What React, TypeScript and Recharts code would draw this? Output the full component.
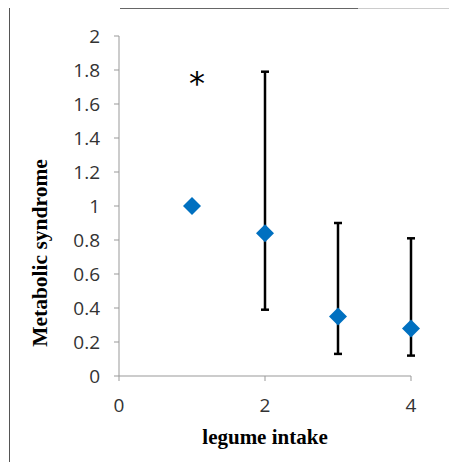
import { ScatterChart, Scatter, XAxis, YAxis, ErrorBar, ReferenceDot } from "recharts";

const intake = [1, 2, 3, 4];
const odds = [1.0, 0.84, 0.35, 0.28];
const lower = [null, 0.39, 0.13, 0.12];
const upper = [null, 1.79, 0.9, 0.81];
const xTicks = [0, 2, 4];
const yTicks = [0, 0.2, 0.4, 0.6, 0.8, 1, 1.2, 1.4, 1.6, 1.8, 2];

const data = intake.map((x, i) => ({
  x,
  y: odds[i],
  err:
    lower[i] == null
      ? null
      : [odds[i] - (lower[i] as number), (upper[i] as number) - odds[i]],
}));

const Diamond = (props: any) => {
  const { cx, cy } = props;
  return (
    <polygon
      points={`${cx},${cy - 9} ${cx + 9},${cy} ${cx},${cy + 9} ${cx - 9},${cy}`}
      fill="#0070C0"
    />
  );
};

const tickStyle = { fontFamily: "Open Sans", fontSize: 19, fill: "#333" };

// y title sits lower than the axis centre in the original
const YTitle = () => (
  <text
    x={40}
    y={253}
    transform="rotate(-90 40 253)"
    textAnchor="middle"
    dominantBaseline="central"
    style={{ fontFamily: "Liberation Serif", fontWeight: "bold", fontSize: 21.5, fill: "#000" }}
  >
    Metabolic syndrome
  </text>
);

export default function App() {
  return (
    <div style={{ position: "absolute", left: 0, top: 0, width: 449, height: 462 }}>
      <div style={{ position: "absolute", left: 9, top: 8, width: 1, height: 454, background: "#555" }} />
      <div style={{ position: "absolute", left: 120, top: 8, width: 238, height: 1, background: "#666" }} />
      <div style={{ position: "absolute", left: 358, top: 8, width: 91, height: 1, background: "#ccc" }} />
      <ScatterChart
        width={449}
        height={462}
        margin={{ top: 36, right: 38, bottom: 16, left: 59 }}
      >
        <XAxis
          type="number"
          dataKey="x"
          domain={[0, 4]}
          ticks={xTicks}
          height={70}
          tick={tickStyle}
          tickLine={{ stroke: "#999" }}
          axisLine={{ stroke: "#999" }}
          tickSize={5}
          tickMargin={18}
          label={{
            value: "legume intake",
            position: "insideBottom",
            offset: 2,
            style: { fontFamily: "Liberation Serif", fontWeight: "bold", fontSize: 21, fill: "#000" },
          }}
        />
        <YAxis
          type="number"
          dataKey="y"
          domain={[0, 2]}
          ticks={yTicks}
          width={60}
          tick={tickStyle}
          tickLine={{ stroke: "#999" }}
          axisLine={{ stroke: "#999" }}
          tickSize={5}
          tickMargin={14}
          label={{ content: () => <YTitle /> }}
        />
        <Scatter data={data} shape={<Diamond />} isAnimationActive={false}>
          <ErrorBar dataKey="err" direction="y" width={4} stroke="#000" strokeWidth={2.5} />
        </Scatter>
        <ReferenceDot
          x={1.07}
          y={1.74}
          r={0}
          fill="none"
          stroke="none"
          label={{ value: "*", position: "center", dy: 2, style: { fontFamily: "DejaVu Sans", fontSize: 32, fill: "#000" } }}
        />
      </ScatterChart>
    </div>
  );
}
